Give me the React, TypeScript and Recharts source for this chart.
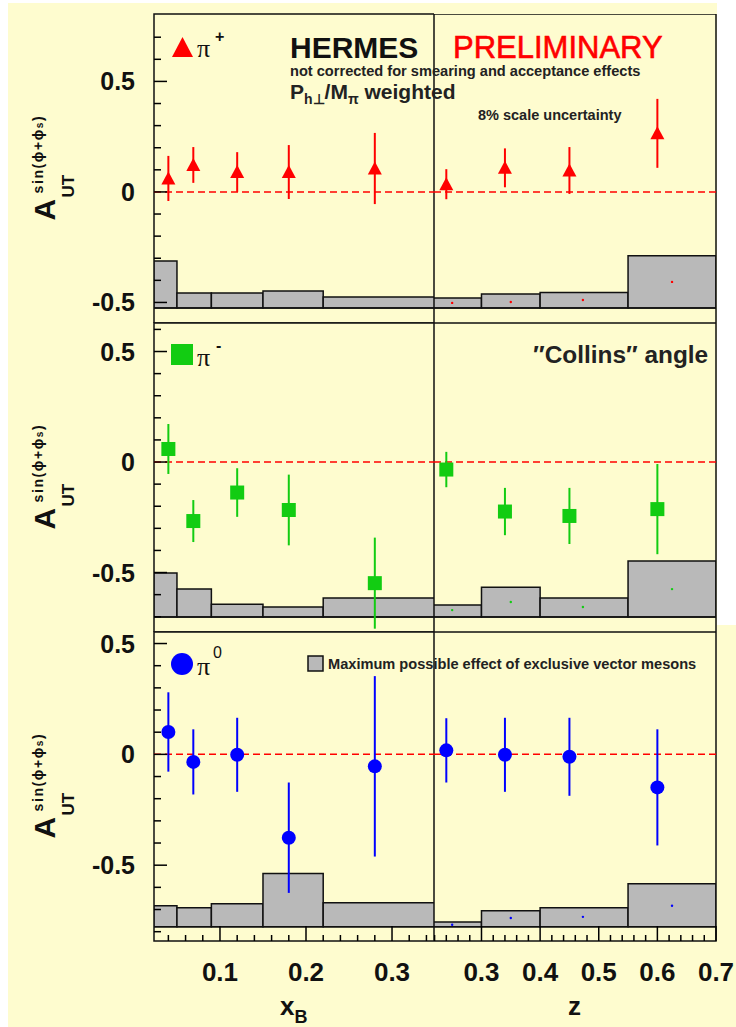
import React from 'react'
import { ComposedChart, Scatter, ErrorBar, XAxis, YAxis, ReferenceArea, ReferenceLine } from 'recharts'

const FONT = "'Liberation Sans', Arial, Helvetica, sans-serif"
const RED = '#ff0000'
const GREEN = '#12cc12'
const BLUE = '#0000ff'
const BOX = '#b9b9b9'
const BG = '#fefccf'

// x_B binning
const xbCenters = [0.04, 0.069, 0.12, 0.18, 0.28]
const xbEdges = [0.023, 0.05, 0.09, 0.15, 0.22, 0.4]
const xbDomain = [0.0233, 0.3488]
const xbTicks = [0.04, 0.06, 0.08, 0.1, 0.12, 0.14, 0.16, 0.18, 0.2, 0.22, 0.24, 0.26, 0.28, 0.3, 0.32, 0.34]

// z binning
const zCenters = [0.24, 0.34, 0.45, 0.6]
const zMeans = [0.25, 0.35, 0.473, 0.625]
const zEdges = [0.2, 0.3, 0.4, 0.55, 0.7]
const zDomain = [0.219, 0.7]
const zTicks = [0.22, 0.24, 0.26, 0.28, 0.3, 0.32, 0.34, 0.36, 0.38, 0.4, 0.42, 0.44, 0.46, 0.48, 0.5, 0.52, 0.54, 0.56, 0.58, 0.6, 0.62, 0.64, 0.66, 0.68, 0.7]

// y ranges per row
const row1Domain = [-0.593, 0.805]
const row2Domain = [-0.769, 0.629]
const row3Domain = [-0.842, 0.552]
const row1Ticks = [-0.5, -0.4, -0.3, -0.2, -0.1, 0, 0.1, 0.2, 0.3, 0.4, 0.5, 0.6, 0.7]
const row2Ticks = [-0.7, -0.6, -0.5, -0.4, -0.3, -0.2, -0.1, 0, 0.1, 0.2, 0.3, 0.4, 0.5, 0.6]
const row3Ticks = [-0.8, -0.7, -0.6, -0.5, -0.4, -0.3, -0.2, -0.1, 0, 0.1, 0.2, 0.3, 0.4, 0.5]
const rowBase = [-0.525, -0.701, -0.778]

// asymmetries
const piPlusXbVal = [0.061, 0.122, 0.09, 0.09, 0.106]
const piPlusXbErr = [0.102, 0.081, 0.09, 0.122, 0.161]
const piPlusZVal = [0.035, 0.109, 0.097, 0.265]
const piPlusZErr = [0.068, 0.088, 0.106, 0.156]
const piMinusXbVal = [0.059, -0.267, -0.138, -0.217, -0.548]
const piMinusXbErr = [0.113, 0.095, 0.11, 0.16, 0.206]
const piMinusZVal = [-0.034, -0.224, -0.244, -0.213]
const piMinusZErr = [0.08, 0.107, 0.127, 0.204]
const piZeroXbVal = [0.101, -0.034, -0.002, -0.376, -0.054]
const piZeroXbErr = [0.179, 0.147, 0.167, 0.249, 0.407]
const piZeroZVal = [0.018, -0.002, -0.011, -0.149]
const piZeroZErr = [0.145, 0.167, 0.176, 0.262]

// exclusive vector meson boxes (top edges)
const vmPiPlusXb = [-0.312, -0.457, -0.457, -0.448, -0.475]
const vmPiPlusZ = [-0.48, -0.462, -0.455, -0.289]
const vmPiMinusXb = [-0.502, -0.575, -0.643, -0.656, -0.615]
const vmPiMinusZ = [-0.647, -0.566, -0.615, -0.448]
const vmPiZeroXb = [-0.683, -0.692, -0.674, -0.538, -0.67]
const vmPiZeroZ = [-0.756, -0.706, -0.692, -0.584]
const vmDotPiPlusZ = [-0.502, -0.498, -0.489, -0.407]
const vmDotPiMinusZ = [-0.67, -0.633, -0.656, -0.575]
const vmDotPiZeroZ = [-0.769, -0.738, -0.733, -0.683]

const isMajor = (v: number, step: number) => Math.abs(v / step - Math.round(v / step)) < 1e-6

const makeYTick = (showLabel: boolean) => (p: any) => {
  const v = p.payload.value
  const major = isMajor(v, 0.5)
  return (
    <g>
      <line x1={p.x} x2={p.x + (major ? 13 : 7)} y1={p.y} y2={p.y} stroke="#000" strokeWidth={1.5} />
      {showLabel && major && (
        <text x={p.x - 19} y={p.y + 9} textAnchor="end" fontFamily={FONT} fontWeight="bold" fontSize={25} fill="#111">
          {v === 0 ? '0' : String(v)}
        </text>
      )}
    </g>
  )
}

const makeXTick = (showLabel: boolean) => (p: any) => {
  const v = p.payload.value
  const major = isMajor(v, 0.1)
  return (
    <g>
      <line x1={p.x} x2={p.x} y1={p.y} y2={p.y - (major ? 15 : 6)} stroke="#000" strokeWidth={1.5} />
      {showLabel && major && (
        <text x={p.x} y={p.y + 40} textAnchor="middle" fontFamily={FONT} fontWeight="bold" fontSize={26} fill="#111">
          {v.toFixed(1)}
        </text>
      )}
    </g>
  )
}

const shapes: Record<string, (color: string) => (p: any) => React.ReactElement> = {
  triangle: (c) => (p) => <polygon points={`${p.cx},${p.cy - 7} ${p.cx - 7},${p.cy + 6} ${p.cx + 7},${p.cy + 6}`} fill={c} />,
  square: (c) => (p) => <rect x={p.cx - 7} y={p.cy - 7} width={14} height={14} fill={c} />,
  circle: (c) => (p) => <circle cx={p.cx} cy={p.cy} r={7} fill={c} />,
}

type PanelProps = {
  left: number
  top: number
  plotW: number
  plotH: number
  axisW: number
  axisH: number
  padTop: number
  padRight: number
  xDomain: number[]
  xTicks: number[]
  yDomain: number[]
  yTicks: number[]
  xLabels: boolean
  yLabels: boolean
  base: number
  edges: number[]
  tops: number[]
  centers: number[]
  vals: number[]
  errs: number[]
  dots?: number[]
  color: string
  marker: string
}

function Panel(props: PanelProps) {
  const { left, top, plotW, plotH, axisW, axisH, padTop, padRight, xDomain, xTicks, yDomain, yTicks, xLabels, yLabels, base, edges, tops, centers, vals, errs, dots, color, marker } = props
  const points = centers.map((x, i) => ({ x, y: vals[i], err: errs[i] }))
  const dotData = dots ? zMeans.map((x, i) => ({ x, y: dots[i] })) : []
  return (
    <div style={{ position: 'absolute', left, top: top - padTop }}>
      <ComposedChart width={axisW + plotW + padRight} height={padTop + plotH + axisH}
        margin={{ top: padTop, right: padRight, bottom: 0, left: 0 }}>
        <XAxis type="number" dataKey="x" domain={xDomain} allowDataOverflow ticks={xTicks} interval={0}
          tickLine={false} axisLine={false} tickSize={0} tickMargin={0} height={axisH} tick={makeXTick(xLabels)} />
        <YAxis type="number" dataKey="y" domain={yDomain} allowDataOverflow ticks={yTicks} interval={0}
          tickLine={false} axisLine={false} tickSize={0} tickMargin={0} width={axisW} tick={makeYTick(yLabels)} />
        {tops.map((t, i) => (
          <ReferenceArea key={i} x1={edges[i]} x2={edges[i + 1]} y1={base} y2={t} fill={BOX} fillOpacity={1}
            stroke="#111" strokeWidth={1.5} ifOverflow="hidden" />
        ))}
        <ReferenceLine y={base} stroke="#111" strokeWidth={1.5} />
        <ReferenceLine y={0} stroke={RED} strokeWidth={1.5} strokeDasharray="7 4" />
        {dots && (
          <Scatter data={dotData} fill={color} isAnimationActive={false}
            shape={(p: any) => <circle cx={p.cx} cy={p.cy} r={1.2} fill={color} />} />
        )}
        <Scatter data={points} fill={color} isAnimationActive={false} shape={shapes[marker](color)}>
          <ErrorBar dataKey="err" direction="y" width={0} stroke={color} strokeWidth={2} />
        </Scatter>
        <ReferenceArea x1={xDomain[0]} x2={xDomain[1]} y1={yDomain[0]} y2={yDomain[1]} fill="none"
          stroke="#111" strokeWidth={1.5} ifOverflow="visible" />
      </ComposedChart>
    </div>
  )
}

const rowTops = [14, 323, 632]
const PLOT_H = 309

function YTitle({ cy }: { cy: number }) {
  return (
    <g transform={`translate(55, ${cy + 52}) rotate(-90)`} fontFamily={FONT} fontWeight="bold" fill="#111">
      <text x={0} y={0} fontSize={30}>A</text>
      <text x={23} y={19} fontSize={17}>UT</text>
      <text x={27} y={-12} fontSize={14} letterSpacing={1.6}>
        sin(ϕ+ϕ<tspan fontSize={10}>s</tspan>)
      </text>
    </g>
  )
}

export default function App() {
  const rows = [
    { domain: row1Domain, ticks: row1Ticks, xb: [piPlusXbVal, piPlusXbErr, vmPiPlusXb], z: [piPlusZVal, piPlusZErr, vmPiPlusZ], dots: vmDotPiPlusZ, color: RED, marker: 'triangle' },
    { domain: row2Domain, ticks: row2Ticks, xb: [piMinusXbVal, piMinusXbErr, vmPiMinusXb], z: [piMinusZVal, piMinusZErr, vmPiMinusZ], dots: vmDotPiMinusZ, color: GREEN, marker: 'square' },
    { domain: row3Domain, ticks: row3Ticks, xb: [piZeroXbVal, piZeroXbErr, vmPiZeroXb], z: [piZeroZVal, piZeroZErr, vmPiZeroZ], dots: vmDotPiZeroZ, color: BLUE, marker: 'circle' },
  ]
  return (
    <div style={{ position: 'absolute', left: 0, top: 0, width: 736, height: 1027, background: '#fff', overflow: 'hidden' }}>
      <div style={{ position: 'absolute', left: 8, top: 3, width: 709, height: 1024, background: BG }} />
      <div style={{ position: 'absolute', left: 8, top: 625, width: 728, height: 402, background: BG }} />
      {rows.map((r, i) => {
        const last = i === 2
        return (
          <React.Fragment key={i}>
            <Panel left={8} top={rowTops[i]} plotW={280} plotH={PLOT_H} axisW={146} axisH={last ? 50 : 0}
              padTop={12} padRight={0}
              xDomain={xbDomain} xTicks={xbTicks} yDomain={r.domain} yTicks={r.ticks} xLabels={last} yLabels
              base={rowBase[i]} edges={xbEdges} tops={r.xb[2]} centers={xbCenters} vals={r.xb[0]} errs={r.xb[1]}
              color={r.color} marker={r.marker} />
            <Panel left={434} top={rowTops[i]} plotW={282} plotH={PLOT_H} axisW={0} axisH={last ? 50 : 0}
              padTop={0} padRight={20}
              xDomain={zDomain} xTicks={zTicks} yDomain={r.domain} yTicks={r.ticks} xLabels={last} yLabels={false}
              base={rowBase[i]} edges={zEdges} tops={r.z[2]} centers={zCenters} vals={r.z[0]} errs={r.z[1]}
              dots={r.dots} color={r.color} marker={r.marker} />
          </React.Fragment>
        )
      })}
      <svg width={736} height={1027} style={{ position: 'absolute', left: 0, top: 0, pointerEvents: 'none' }}>
        {rowTops.map((t) => <YTitle key={t} cy={t + PLOT_H / 2} />)}

        {/* species labels */}
        <polygon points="182.5,37 172,57 193,57" fill={RED} />
        <text x={197} y={57} fontFamily="'Liberation Serif', serif" fontSize={26} fill="#111">π</text>
        <text x={215} y={42} fontFamily={FONT} fontWeight="bold" fontSize={16} fill="#111">+</text>
        <rect x={171} y={344} width={22} height={21} fill={GREEN} />
        <text x={197} y={366} fontFamily="'Liberation Serif', serif" fontSize={26} fill="#111">π</text>
        <text x={216} y={351} fontFamily={FONT} fontWeight="bold" fontSize={16} fill="#111">-</text>
        <circle cx={182} cy={664} r={11} fill={BLUE} />
        <text x={197} y={675} fontFamily="'Liberation Serif', serif" fontSize={26} fill="#111">π</text>
        <text x={213} y={658} fontFamily={FONT} fontSize={16} fill="#111">0</text>

        {/* header */}
        <text x={290} y={58} fontFamily={FONT} fontWeight="bold" fontSize={30} fill="#111">HERMES</text>
        <text x={453} y={58} fontFamily={FONT} fontSize={31} fill={RED} stroke={RED} strokeWidth={0.6}>PRELIMINARY</text>
        <text x={290} y={76} fontFamily={FONT} fontWeight="bold" fontSize={14.6} fill="#222">not corrected for smearing and acceptance effects</text>
        <text x={290} y={99} fontFamily={FONT} fontWeight="bold" fontSize={21} fill="#222">
          P<tspan fontSize={14} dy={5}>h⊥</tspan><tspan dy={-5}>/M</tspan><tspan fontSize={14} dy={5}>π</tspan><tspan dy={-5}> weighted</tspan>
        </text>
        <text x={478} y={120} fontFamily={FONT} fontWeight="bold" fontSize={14.5} fill="#222">8% scale uncertainty</text>
        <text x={533} y={363} fontFamily={FONT} fontWeight="bold" fontSize={24.4} fill="#222">″Collins″ angle</text>

        {/* vector meson legend */}
        <rect x={308} y={656} width={15} height={15} fill={BOX} stroke="#111" strokeWidth={1.5} />
        <text x={328} y={668.5} fontFamily={FONT} fontWeight="bold" fontSize={14.6} fill="#222">Maximum possible effect of exclusive vector mesons</text>

        {/* axis titles */}
        <text x={280} y={1015} fontFamily={FONT} fontWeight="bold" fontSize={26} fill="#111">
          x<tspan fontSize={18} dy={8}>B</tspan>
        </text>
        <text x={568} y={1015} fontFamily={FONT} fontWeight="bold" fontSize={26} fill="#111">z</text>
      </svg>
    </div>
  )
}
